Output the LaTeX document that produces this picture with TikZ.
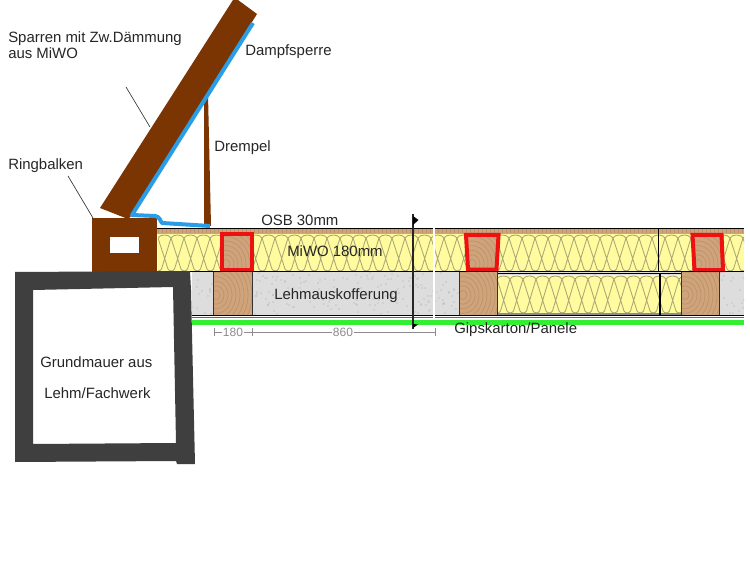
\documentclass[tikz,border=0pt]{standalone}
\usepackage{fontspec}
\setmainfont{Liberation Sans}
\definecolor{brownbeam}{HTML}{7A3503}
\definecolor{foilblue}{HTML}{2A9DE8}
\definecolor{walldark}{HTML}{3F3F3F}
\definecolor{woolyellow}{HTML}{FFFB9E}
\definecolor{woolline}{HTML}{ABA878}
\definecolor{woodtan}{HTML}{CFA47C}
\definecolor{woodline}{HTML}{BC9268}
\definecolor{claygray}{HTML}{DDDDDD}
\definecolor{speck}{HTML}{A8A8A8}
\definecolor{redframe}{HTML}{EE1111}
\definecolor{greenstrip}{HTML}{33EE33}
\definecolor{dimgray}{HTML}{8C8C8C}
\newcommand{\wool}[4]{% x0, x1, ytop, ybot
  \begin{scope}
    \clip (#1,#3) rectangle (#2,#4);
    \fill[woolyellow] (#1,#3) rectangle (#2,#4);
    \foreach \k in {0,...,48}{
      \pgfmathsetmacro{\xa}{#1-13+13*\k}
      \pgfmathsetmacro{\xb}{\xa+13}
      \pgfmathsetmacro{\xp}{\xa+3.5}
      \pgfmathsetmacro{\xq}{\xa+10}
      \pgfmathsetmacro{\xr}{\xa+16.5}
      \draw[woolstroke] (\xp,#4-2) -- (\xb,#3+4)
        .. controls (\xb-2,#3) and (\xa+2,#3) .. (\xa,#3+4) -- (\xq,#4-2)
        .. controls (\xq+1.5,#4+.5) and (\xr-1.5,#4+.5) .. (\xr,#4-2);
    }
  \end{scope}}
\newcommand{\grain}[6]{% x0,y0,x1,y1,cx,cy
  \begin{scope}
    \clip (#1,#2) rectangle (#3,#4);
    \fill[woodtan] (#1,#2) rectangle (#3,#4);
    \foreach \r in {4,8,...,52}{\draw[woodline,line width=.5pt] (#5,#6) ellipse ({\r} and {\r*1.15});}
  \end{scope}}
\tikzset{
  woolstroke/.style={woolline,line width=.65pt},
  lbl/.style={anchor=base west,inner sep=0pt,font=\fontsize{11.2pt}{13pt}\selectfont,text=black!85},
  dimlbl/.style={anchor=base,inner sep=1pt,fill=white,font=\fontsize{9pt}{10pt}\selectfont,text=dimgray},
  dimline/.style={dimgray,line width=.55pt},
  blk/.style={black,line width=.7pt},
  leader/.style={black!80,line width=.5pt},
  redbox/.style={draw=redframe,line width=3pt,line join=miter}
}
\begin{document}
\begin{tikzpicture}[x=0.75pt,y=-0.75pt]
\useasboundingbox (0,0) rectangle (750,563);
\fill[white] (0,0) rectangle (750,563);

% --- upper layer
\fill[woodtan] (157,228) rectangle (744,234);
\foreach \i in {0,...,146}{\draw[woodline,line width=.4pt] (158+4*\i,229) -- (158+4*\i,233.5);}
\wool{158}{744}{234}{271}

% --- lower layer
\fill[claygray] (192,272) rectangle (744,315);
\pgfmathsetseed{11}
\begin{scope}
  \clip (192,272) rectangle (744,315);
  \foreach \i in {1,...,420}{
    \pgfmathrandominteger{\sx}{192}{744}
    \pgfmathrandominteger{\sy}{273}{314}
    \fill[speck] (\sx,\sy) circle (.55);
  }
\end{scope}
\wool{497}{681}{275}{313}
\fill[black!45] (497,313) rectangle (681,315);
\draw[blk] (497,273.5) -- (681,273.5);

% --- wood studs
\grain{213}{272}{252}{315}{216}{295}
\grain{459}{272}{497}{315}{463}{295}
\grain{681}{272}{719}{315}{685}{295}
\foreach \a/\b in {213/252,459/497,681/719}{
  \draw[black!80,line width=.6pt] (\a,272) -- (\a,315) (\b,272) -- (\b,315);
}

% --- red framed rafters
\grain{220}{233}{253}{271}{226}{264}
\draw[redbox] (222,234.5) rectangle (251.5,270);
\grain{466}{234}{498}{271}{472}{264}
\draw[redbox] (466,235) -- (498.5,235) -- (496.5,269.5) -- (468,269.5) -- cycle;
\grain{692}{234}{724}{271}{698}{264}
\draw[redbox] (692.5,235) -- (721.5,235) -- (723,270) -- (694.5,270) -- cycle;

% --- lines of the floor
\draw[blk] (157,228) -- (744,228);
\draw[blk] (157,271.5) -- (744,271.5);
\draw[blk] (192,315) -- (744,315);
\draw[black!60,line width=.6pt] (192,317.5) -- (744,317.5);
\fill[greenstrip] (192,320) rectangle (744,324.5);
\draw[white,line width=.8pt] (434,228) -- (434,318);
\draw[black,line width=.8pt] (658.5,228) -- (658.5,272);
\draw[black,line width=.8pt] (660,274) -- (660,316);

% --- section mark
\coordinate (secT) at (413,214);
\coordinate (secB) at (413,329);
\draw[black!85,line width=.9pt] (secT) -- (secB);
\fill[black] (413,216) -- (418.5,220) -- (413,225) -- cycle;
\fill[black] (413,324) -- (418,324.5) -- (413,328) -- cycle;

% --- rafter, kneewall, ring beam
\fill[brownbeam] (204,100) -- (208,94) -- (211,226) -- (204,226) -- cycle;
\fill[brownbeam] (92,218) -- (157,218) -- (157,272) -- (92,272) -- cycle;
\fill[brownbeam] (233,0) -- (238,0) -- (257,14) -- (131,216) -- (128,219) -- (100,208) -- cycle;
\draw[foilblue,line width=3pt,line join=round] (253,23) -- (132,215) -- (155,216)
  .. controls (160,216.5) and (160,221) .. (162,223) -- (210,226);
\fill[white] (110,237) rectangle (139,253);

% --- foundation wall
\fill[walldark,even odd rule]
  (15,272) -- (190,271) -- (191,290) -- (195,464) -- (177,464) -- (176,461) -- (15,462) -- cycle
  (33,290) -- (173,287) -- (176,443) -- (33,444) -- cycle;

% --- leaders
\coordinate (lA) at (126,87);
\coordinate (lB) at (150,127);
\coordinate (lC) at (68,176);
\coordinate (lD) at (93,218);
\draw[leader] (lA) -- (lB);
\draw[leader] (lC) -- (lD);

% --- dimensions
\coordinate (d0) at (214,332);
\coordinate (d1) at (252,332);
\coordinate (d2) at (435,332);
\draw[dimline] (d0) -- (d2);
\foreach \c in {d0,d1,d2}{\draw[dimline] ([yshift=3pt]\c) -- ([yshift=-3pt]\c);}
\node[dimlbl] (dimA) at (233,336) {180};
\node[dimlbl] (dimB) at (343,336) {860};

% --- labels
\node[lbl] (t1) at (8,43) {Sparren mit Zw.Dämmung};
\node[lbl] (t2) at (8,59) {aus MiWO};
\node[lbl] (t3) at (245,56) {Dampfsperre};
\node[lbl] (t4) at (214,152) {Drempel};
\node[lbl] (t5) at (8,170) {Ringbalken};
\node[lbl] (t6) at (261,225) {OSB 30mm};
\node[lbl] (t7) at (287,257) {MiWO 180mm};
\node[lbl] (t8) at (274,299) {Lehmauskofferung};
\node[lbl] (t9) at (454,333) {Gipskarton/Panele};
\node[lbl] (t10) at (40,367) {Grundmauer aus};
\node[lbl] (t11) at (44,398) {Lehm/Fachwerk};
\end{tikzpicture}
\end{document}
